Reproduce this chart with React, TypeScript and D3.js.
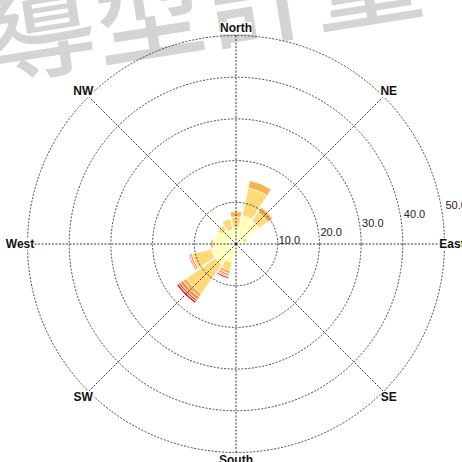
import React, { useEffect, useRef } from 'react';
import * as d3 from 'd3';

// wind directions, 16 sectors clockwise from north
const directions = ['N', 'NNE', 'NE', 'ENE', 'E', 'ESE', 'SE', 'SSE', 'S', 'SSW', 'SW', 'WSW', 'W', 'WNW', 'NW', 'NNW'];
const speedClasses = ['c0', 'c1', 'c2', 'c3', 'c4', 'c5'];
const speedColors = ['#ffffb2', '#fed976', '#feb24c', '#fd8d3c', '#fc4e2a', '#e31a1c'];

// frequency (%) per speed class, one value per direction
const c0 = [4.0, 7.0, 6.7, 1.8, 1.0, 0.4, 0.3, 0.4, 1.5, 4.5, 6.0, 6.0, 5.5, 5.3, 4.0, 3.5];
const c1 = [2.5, 6.8, 2.5, 1.0, 0.3, 0.0, 0.0, 0.0, 0.5, 2.0, 8.5, 4.8, 0.0, 0.0, 1.4, 2.7];
const c2 = [1.3, 1.8, 1.5, 0.0, 0.0, 0.0, 0.0, 0.0, 0.0, 0.8, 1.0, 0.0, 0.6, 0.0, 0.0, 0.0];
const c3 = [0.2, 0.0, 0.0, 0.0, 0.0, 0.0, 0.0, 0.0, 0.0, 0.5, 0.8, 0.5, 0.0, 0.0, 0.0, 0.0];
const c4 = [0.0, 0.0, 0.0, 0.0, 0.0, 0.0, 0.0, 0.0, 0.0, 0.3, 0.5, 0.3, 0.0, 0.0, 0.0, 0.0];
const c5 = [0.0, 0.0, 0.0, 0.0, 0.0, 0.0, 0.0, 0.0, 0.0, 0.4, 0.5, 0.0, 0.0, 0.0, 0.0, 0.0];

const compassLabels = ['North', 'NE', 'East', 'SE', 'South', 'SW', 'West', 'NW'];
const radialTicks = [10, 20, 30, 40, 50];
const watermark = '導型計量';

const App: React.FC = () => {
  const svgRef = useRef<SVGSVGElement>(null);

  useEffect(() => {
    if (!svgRef.current) return;
    const width = 462;
    const height = 462;
    const cx = 236;
    const cy = 244;

    const svg = d3.select(svgRef.current);
    svg.selectAll('*').remove();

    svg.append('rect').attr('width', width).attr('height', height).attr('fill', '#fff');

    // watermark
    svg.append('text')
      .attr('x', -8)
      .attr('y', 78)
      .attr('transform', 'rotate(-9,-8,78)')
      .attr('font-family', '"Noto Sans CJK TC", "Noto Sans CJK SC", sans-serif')
      .attr('font-size', 110)
      .attr('font-weight', 500)
      .attr('fill', '#d4d4d4')
      .text(watermark);

    const g = svg.append('g').attr('transform', `translate(${cx},${cy})`);

    const r = d3.scaleLinear().domain([0, 50]).range([0, 208.5]);
    const step = (2 * Math.PI) / directions.length;
    const angle = d3.scaleBand<string>()
      .domain(directions)
      .range([-step / 2, 2 * Math.PI - step / 2])
      .paddingInner(0.08)
      .paddingOuter(0.04);

    const series = [c0, c1, c2, c3, c4, c5];
    const table = directions.map((d, i) => {
      const row: Record<string, any> = { dir: d };
      speedClasses.forEach((k, j) => { row[k] = series[j][i]; });
      return row;
    });
    const stacked = d3.stack<any>().keys(speedClasses)(table);

    const arc = d3.arc<any>()
      .innerRadius(d => r(d[0]))
      .outerRadius(d => r(d[1]))
      .startAngle(d => angle(d.data.dir)!)
      .endAngle(d => angle(d.data.dir)! + angle.bandwidth());

    stacked.forEach((layer, j) => {
      g.append('g')
        .selectAll('path')
        .data(layer.filter(d => d[1] - d[0] > 0))
        .join('path')
        .attr('d', arc)
        .attr('fill', speedColors[j])
        .attr('stroke', '#fff')
        .attr('stroke-width', 0.8);
    });

    // grid circles
    g.append('g')
      .selectAll('circle')
      .data(radialTicks)
      .join('circle')
      .attr('r', d => r(d))
      .attr('fill', 'none')
      .attr('stroke', '#333')
      .attr('stroke-width', 0.9)
      .attr('stroke-dasharray', '2,1.5');

    // spokes
    const labelR = 216;
    g.append('g')
      .selectAll('line')
      .data(compassLabels)
      .join('line')
      .attr('x1', 0)
      .attr('y1', 0)
      .attr('x2', (_, i) => labelR * Math.sin(i * Math.PI / 4))
      .attr('y2', (_, i) => -labelR * Math.cos(i * Math.PI / 4))
      .attr('stroke', '#222')
      .attr('stroke-width', 0.9)
      .attr('stroke-dasharray', '2,1.5');

    // radial tick labels
    g.append('g')
      .selectAll('text')
      .data(radialTicks)
      .join('text')
      .attr('x', d => r(d) + 1)
      .attr('y', d => 9 - r(d) * 0.21)
      .attr('font-family', 'Arial, "Liberation Sans", sans-serif')
      .attr('font-size', 11)
      .attr('fill', '#222')
      .text(d => d3.format('.1f')(d));

    // compass labels with white backing
    compassLabels.forEach((lab, i) => {
      const a = i * Math.PI / 4;
      const lg = g.append('g')
        .attr('transform', `translate(${labelR * Math.sin(a)},${-labelR * Math.cos(a)})`);
      const t = lg.append('text')
        .attr('text-anchor', 'middle')
        .attr('dy', '0.35em')
        .attr('font-family', 'Arial, "Liberation Sans", sans-serif')
        .attr('font-size', 12)
        .attr('font-weight', 'bold')
        .attr('fill', '#111')
        .text(lab);
      const bb = (t.node() as SVGTextElement).getBBox();
      lg.insert('rect', 'text')
        .attr('x', bb.x)
        .attr('y', bb.y + 1)
        .attr('width', bb.width)
        .attr('height', bb.height - 2)
        .attr('fill', '#fff');
    });
  }, []);

  return (
    <svg
      ref={svgRef}
      width={462}
      height={462}
      style={{ position: 'absolute', left: 0, top: 0, display: 'block' }}
    />
  );
};

export default App;
